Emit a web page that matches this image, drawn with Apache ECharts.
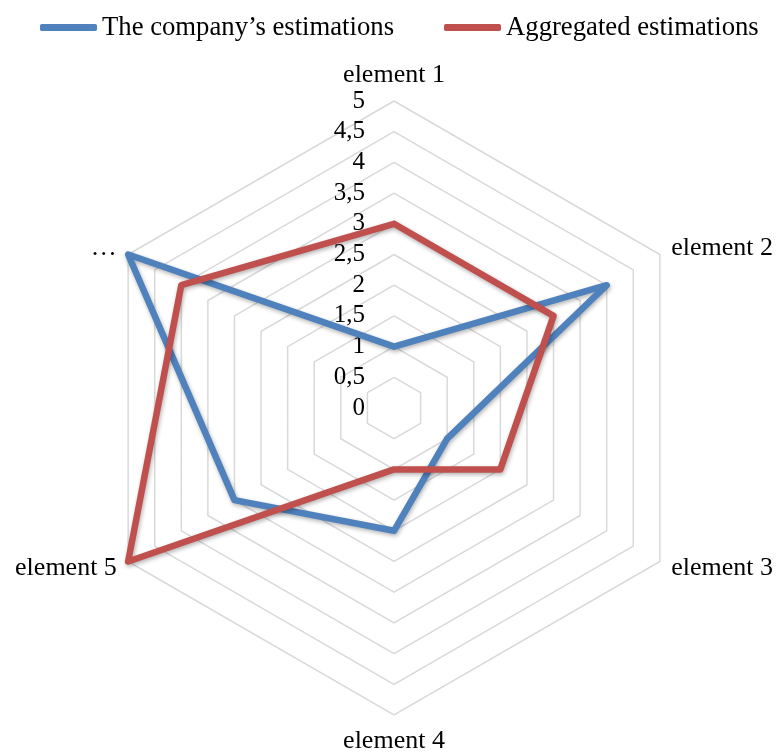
<!DOCTYPE html>
<html>
<head>
<meta charset="utf-8">
<script src="https://cdn.jsdelivr.net/npm/echarts@6/dist/echarts.min.js"></script>
<style>
  html, body { margin: 0; padding: 0; background: #fff; }
  #main { width: 777px; height: 756px; }
</style>
</head>
<body>
<div id="main"></div>
<script>
// data (clockwise from the top)
var elements = ['element 1', 'element 2', 'element 3', 'element 4', 'element 5', '\u2026'];
var seriesNames = ['The company\u2019s estimations', 'Aggregated estimations'];
var company = [1, 4, 1, 2, 3, 5];
var aggregated = [3, 3, 2, 1, 5, 4];
var scaleMax = 5;
var scaleSteps = 10;

var serif = '"Liberation Serif", "Times New Roman", serif';

// radar goes counter-clockwise, so keep the first item and reverse the rest
function clockwise(arr) {
    return [arr[0]].concat(arr.slice(1).reverse());
}

var myChart = echarts.init(document.getElementById('main'));

var indicators = clockwise(elements).map(function (name, i) {
    var ind = { name: name, min: 0, max: scaleMax };
    if (i === 0) {
        ind.axisLabel = { show: true };
    }
    return ind;
});

function lineStyleOf(color) {
    return {
        color: color,
        width: 6.5,
        join: 'round',
        cap: 'round',
        shadowColor: 'rgba(0,0,0,0.3)',
        shadowBlur: 4,
        shadowOffsetX: 1,
        shadowOffsetY: 2
    };
}

var option = {
    backgroundColor: '#fff',
    animation: false,
    color: ['#4F81BD', '#C0504D'],
    legend: {
        left: 35,
        top: 9,
        itemWidth: 57,
        itemHeight: 7,
        itemGap: 50,
        icon: 'roundRect',
        textStyle: { fontFamily: serif, fontSize: 26.7, color: '#000' },
        data: seriesNames
    },
    radar: {
        center: [394, 408],
        radius: 307,
        startAngle: 90,
        splitNumber: scaleSteps,
        shape: 'polygon',
        nameGap: 13,
        axisName: { color: '#000', fontFamily: serif, fontSize: 26 },
        axisLine: { show: false },
        axisTick: { show: false },
        axisLabel: {
            show: false,
            margin: 29,
            color: '#000',
            fontFamily: serif,
            fontSize: 25,
            formatter: function (v) { return String(v).replace('.', ','); }
        },
        splitLine: { lineStyle: { color: '#D9D9D9', width: 1.5 } },
        splitArea: { show: false },
        indicator: indicators
    },
    series: [{
        type: 'radar',
        symbol: 'none',
        data: [
            { name: seriesNames[0], value: clockwise(company), lineStyle: lineStyleOf('#4F81BD') },
            { name: seriesNames[1], value: clockwise(aggregated), lineStyle: lineStyleOf('#C0504D') }
        ]
    }]
};

myChart.setOption(option);
</script>
</body>
</html>
